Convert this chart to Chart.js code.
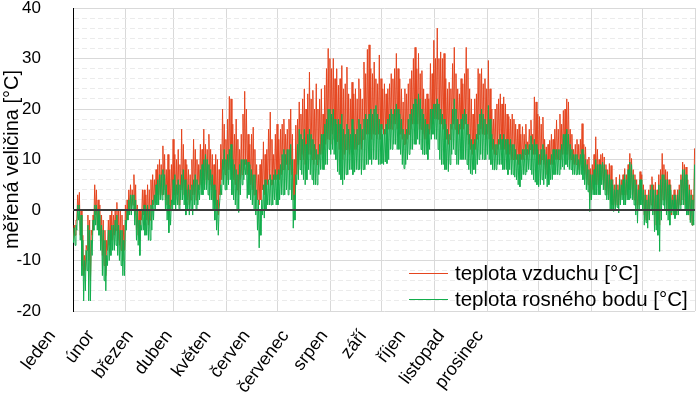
<!DOCTYPE html>
<html>
<head>
<meta charset="utf-8">
<script src="https://cdn.jsdelivr.net/npm/chart.js@4.4.1/dist/chart.umd.min.js"></script>
<style>
  html, body { margin: 0; padding: 0; background: #fff; }
  #wrap { position: relative; width: 696px; height: 399px; }
</style>
</head>
<body>
<div id="wrap"><canvas id="chart"></canvas></div>
<script>
// --- DATA (denní maxima a minima) ---
const monthNames = ['leden', 'únor', 'březen', 'duben', 'květen', 'červen',
    'červenec', 'srpen', 'září', 'říjen', 'listopad', 'prosinec'];
const monthDays = [31, 28, 31, 30, 31, 30, 31, 31, 30, 31, 30, 31];

const airHigh = [
    -3,-2,3,3.5,0,-5,-9,-7,-1,-2,-4,-1,5,4,2,1,-1,-2,-4,-6,-2,-1,0,-1,0,1.5,0,0,-1,-3,1,
    2,4,5,4,7,5,1,0,0,4,4,3,5,4,6,7,6,8,9,10,9,12.7,11,8,11,8,9,14,
    11,10,12,9,16,13,10,9,8,7,10,14,12,10,9,13,12,16,13,12,15,12,11,9,11,10,8,13,20,17,14,
    18,22.5,22,17,15,18,14,12,15,19,23.5,20,15,13,15,16.4,12,9,7,9,10,13.5,11,12,16,19.4,14,11,15,17,
    14,16,17,18,15,16,18,20,15,10,16.8,18,21.4,19,22,24,20,23,27.3,22,23.7,20,25,20,22,24,19,24.7,28,32,30,
    28,30,26,28,24.7,26,28.6,24,25,28.3,23,22,25.3,23,24,22,26,24,22,29.3,27,31.8,32.7,28,27,29.3,26,25,30.7,26,
    24,25,23,24,25,27,26,28,31,28,26,24,21.4,24,23,25,26,27.6,30,32.2,28,31,27,27.6,24,22,23,22,29,27,33.6,
    30,36,30,31.3,30,31,26,24,25.3,24,29,32.2,27,24,23,26,25,27,32.2,28,24,22,19,22,23,28,27,28,25,26,24,
    29.6,24,20,18,20,21,22,23,21,22.4,21,19,18.5,18,19,18,17,16,17,15,16.5,15,17,13.5,16,17.8,15,22.4,21.4,19,
    18.5,17,18.4,14,12.5,13,13.8,15,14,16,17.8,16,19,17,19.7,20,22,21.4,16,15,12,13,14,13,14,17.1,13,12.5,10,10.5,8.2,
    9,11,14.5,12,10,11,11.2,10.5,9,8,9.2,8.8,6,5,6.5,5,7,6,7,8.2,7,9,11.2,10.2,8,7,6,5,7.6,7,
    5,4,3,4,5,6.6,5,5.5,4,7,8,11.2,9,8,7.6,6,5,3,4,3,4,5,7,9.5,9,8.5,6,5,4,3,12.2
];
const airLow = [
    -6,-5,-2,0,-5,-11,-13,-12,-8,-10,-14,-5,-2,-1,-3,-4,-6,-9,-11,-13,-8,-7,-6,-6,-5,-4,-6,-7,-8,-10,-8,
    -3,-1,0,0,1,-1,-4,-5,-6,-2,-1,-3,-2,-3,-2,0,1,2,3,2,3,3,4,2,1,-1,0,2,
    3,2,3,1,4,4,3,1,2,1,2,3,3,2,3,4,5,6,5,6,6,5,4,2,1,0,-1,3,6,8,7,
    6,8,8,7,6,5,4,3,6,7,8,9,7,6,5,4,3,3,2,1,2,4,3,4,5,6,5,5,6,6,
    5,6,7,8,8,9,8,9,7,2,2,7,9,10,11,10,9,10,11,11,10,9,10,9,10,11,11,12,13,14,14,
    13,15,14,13,13.5,12,12,10,11,12,12,11,12,11,12,12,13,13,12,14,14,15,15,15,14,15,15,14,15,14,
    16,15,15,16,16,16,16,17,17,16,15,15,14,13,13,14,15,16,17,17,17,17,16,16,15,14,14,13,15,16,17,
    18,18,18,17,17,16,15,14,13,14,16,17,16,15,15,16,15,16,17,15,13,12,11,12,12,14,15,16,15,15,14,
    15,14,13,12,11,11,12,13,12,12,12,11,11,11,10,10,10,10,9,9,10,10,11,10,11,12,11,11,11,10,
    9,9,10,9,8,7,8,9,9,9,10,10,10,10,11,11,11,11,10,10,9,9,9,8,8,9,8,7,6,5,2,
    3,4,5,5,5,6,6,5,4,3,3,2,1,0,1,1,1,2,3,3,2,3,4,4,3,2,1,0,1,2,
    1,-1,-2,-2,-1,1,0,-1,-3,-2,-3,1,2,2,1,0,-1,-1,0,-1,-1,0,1,2,2,1,0,-1,-2,-3,0
];
const dewHigh = [
    -3.5,-3,1,1,-1,-6,-10,-8,-3,-4,-6,-2,1,1,0,-1,-3,-4,-6,-9,-4,-4,-3,-3,-2,-1,-3,-4,-4,-6,-2,
    0,2,3,3,3,2,0,-2,-3,0,1,0,1,0,1,2,3,5,6,7,7,8,7,5,3,1,2,6,
    7,5,6,5,7,8,6,4,5,4,5,6,7,6,5,8,9,10,11,10,9,8,7,5,4,2,0,5,10,12,10,
    11,12,13,10,9,8,7,9,10,10,10,10,9.5,9,8,7,7,4,2,0,2,5,6,5,6,7,6,7,8,7,
    8,9,11,12,11,12,12,13,10,3,7,13,16,15,14,16,13,15,16,15,14,13,12,11,13,15,15,17,18,20,20,
    19,20,18,17,18,17,19,16,15,17,16,15,18,16,15,16,18,17,16,18,19,18,19,20,19,20,20.7,19,18,17,
    15,16,17,18,19,20,19,20,21,20,19,18,16,15,16,18,19,20,21,22,21,23,22,20,19,18,17,16,20,20,21,
    21,22,21,20,19,18,17,16,15,17,20,22,20,18,17,18,19,20,19,17,15,14,13,14,15,17,19,20,19,18,17,
    20.7,18,15,14,13,13,14,15,14,15,14,14,13,14,13,13,12,11,11,11,12,12,13,12,13,14.7,13,14,13,12,
    11,12,13,12,11,10,10,11,12,12,12,12,12,13,15,15,16,15,13,12,11,11,11,10,11,12,11,10,9,8,7,
    7,8,10,9,9,9,9.5,9,8,7,7,6,5,4,5,4,6,5,6,7,6,8,9.5,9,7,6,5,4,6,6,
    4,3,2,3,4,5,4,4,3,5,6,7,7,6,6,5,4,2,3,2,3,4,6,8,8,7,5,4,3,2,9
];
const dewLow = [
    -6.5,-7,-4,-2,-6,-13,-18,-16,-12,-18,-18,-9,-4,-3,-4,-5,-8,-13,-14,-16,-11,-10,-9,-8,-8,-7,-9,-10,-11,-13,-13,
    -4,-2,-1,-1,0,-3,-6,-7,-9,-4,-4,-5,-5,-6,-6,-4,-2,0,1,1,2,2,3,0,-2,-4.5,-3,0,
    1,0,1,0,2,2,1,-1,0,-1,0,-1,1,0,1,2,3,3,4,4,3,2,2,0,-2,-4,-5,0,3,5,4,
    4,5,6,3,2,1,0,-0.5,3,5,6,7,2.3,3,2,1,0,-1,-4,-7.5,-5,-1,-1.6,0,1,1,1,1,2,1,
    1,2,3,3,3,4,3,4,2,-3.6,-2,5,6,8,7,6,5,6,8,7,6,5,5,5,7,8,8,8,9,9,12,
    11,12,11,10,7.6,7,6,5,6,7,7,8,8,7,7.5,8,8,8,7,8,8,9,9,10,9,10,10,10,9,9,
    9.2,9,9.5,9.2,10,12,12,13,13,12,12,11,9,8.2,9,10,11,12,12,13,13,14,13,12,11,10.9,11,10,12,14,15,
    14,14,12,10,9,9,8,8,7.6,9,11,12,11,9,9,10,10,10,10,9,8,7.2,7,8,7.2,9,10,11,10,10,10,
    11,10,9,8,7.9,8,9,9,9,8,8,8,7,8,7,7,6.5,6,5,4.6,6,7,7,7.5,8,8,7,6,5.5,5,
    4.6,5,6,5,6.2,4.6,5,6,6,7,7,7,7,8,8.5,8,9,8.5,8,8,7,7,7,7,7,7,6,5,4,3.6,-0.3,
    2,3,3,3,3,3,5,4,3,2,2,0,0,-0.3,0,0.5,-0.6,1,2,1,1,2,2,2.3,2,1,-1,-2.6,0,1,
    0,-3,-2.5,-3.6,-2,0,-1,-4.3,-4,-5,-8.2,-2,1,0,-1,-2,-3,-0.5,-1,-1.7,-1,-1,0,1,1,0,-1,-1,-2.5,-3,-3
];

// začátky měsíců (den v roce) pro svislou mřížku
const monthStarts = [0];
monthDays.forEach(n => monthStarts.push(monthStarts[monthStarts.length - 1] + n));

// minimum dopoledne, maximum odpoledne -> dva body na den
function dailyPoints(lows, highs) {
    const pts = [];
    lows.forEach((lo, d) => {
        pts.push({ x: d + 0.25, y: lo });
        pts.push({ x: d + 0.75, y: highs[d] });
    });
    return pts;
}

const FAMILY = "'Liberation Sans', Arial, sans-serif";

// legenda uvnitř grafu vpravo dole
const insideLegend = {
    id: 'insideLegend',
    afterDraw(chart, args, opts) {
        const ctx = chart.ctx;
        ctx.save();
        ctx.font = opts.font;
        ctx.textBaseline = 'middle';
        ctx.fillStyle = '#000';
        chart.data.datasets.filter(ds => ds.inLegend).forEach((ds, i) => {
            const y = Math.round(opts.y + i * opts.rowGap);
            ctx.strokeStyle = ds.borderColor;
            ctx.lineWidth = 1;
            ctx.beginPath();
            ctx.moveTo(opts.x, y + 0.5);
            ctx.lineTo(opts.x + opts.lineLen, y + 0.5);
            ctx.stroke();
            ctx.fillText(ds.label, opts.x + opts.lineLen + opts.gap, y + 1);
        });
        ctx.restore();
    }
};

const ctx = document.getElementById('chart').getContext('2d');
new Chart(ctx, {
    type: 'line',
    data: {
        datasets: [
            {
                label: 'teplota vzduchu [°C]',
                data: dailyPoints(airLow, airHigh),
                borderColor: '#e5451f',
                borderWidth: 1,
                pointRadius: 0,
                tension: 0,
                order: 2,
                inLegend: true
            },
            {
                label: 'teplota rosného bodu [°C]',
                data: dailyPoints(dewLow, dewHigh),
                borderColor: '#12ad4c',
                borderWidth: 1,
                pointRadius: 0,
                tension: 0,
                order: 1,
                inLegend: true
            },
            {
                label: 'osa',
                data: [{ x: 0, y: 0 }, { x: 365, y: 0 }],
                borderColor: '#3c3c3c',
                borderWidth: 2,
                pointRadius: 0,
                order: 0
            }
        ]
    },
    options: {
        responsive: true,
        maintainAspectRatio: false,
        animation: false,
        devicePixelRatio: 1,
        parsing: false,
        layout: { padding: { top: 8, right: 1, left: 0, bottom: 0 } },
        plugins: {
            legend: { display: false },
            tooltip: { enabled: false },
            insideLegend: {
                x: 409, y: 273, rowGap: 26, lineLen: 39, gap: 7,
                font: '20.5px ' + FAMILY
            }
        },
        scales: {
            x: {
                type: 'linear',
                position: 'bottom',
                min: 0,
                max: 365,
                afterBuildTicks: s => { s.ticks = monthStarts.map(v => ({ value: v })); },
                ticks: { display: false },
                grid: { color: '#d9d9d9', lineWidth: 1, drawTicks: false },
                border: { display: false },
                afterFit: s => { s.height = 0; s.paddingLeft = 0; s.paddingRight = 0; }
            },
            months: {
                type: 'linear',
                position: 'bottom',
                min: 21 / 38.9,
                max: 21 / 38.9 + 622 / 38.9,
                afterBuildTicks: s => { s.ticks = monthNames.map((n, i) => ({ value: i })); },
                ticks: {
                    autoSkip: false,
                    minRotation: 53,
                    maxRotation: 53,
                    padding: 15,
                    color: '#000',
                    font: { family: FAMILY, size: 18 },
                    callback: (v, i) => monthNames[i]
                },
                grid: { display: false, drawTicks: false },
                border: { display: false },
                afterFit: s => { s.height = 88; s.paddingLeft = 0; s.paddingRight = 0; }
            },
            y: {
                min: -20,
                max: 40,
                ticks: {
                    stepSize: 2,
                    autoSkip: false,
                    padding: 32,
                    color: '#000',
                    font: { family: FAMILY, size: 17 },
                    callback: v => (v % 10 === 0 ? v : '')
                },
                grid: {
                    drawTicks: false,
                    color: c => (c.tick && c.tick.value % 10 === 0 ? '#d9d9d9' : '#ebebeb')
                },
                border: {
                    color: '#000',
                    width: 1,
                    dash: c => (c.tick && c.tick.value % 10 !== 0 ? [5, 3] : [])
                },
                title: {
                    display: true,
                    text: 'měřená veličina [°C]',
                    color: '#000',
                    font: { family: FAMILY, size: 20 },
                    padding: { top: 0, bottom: 0 }
                },
                afterFit: s => { s.width = 73; s.paddingTop = 0; s.paddingBottom = 0; }
            }
        }
    },
    plugins: [insideLegend]
});
</script>
</body>
</html>
